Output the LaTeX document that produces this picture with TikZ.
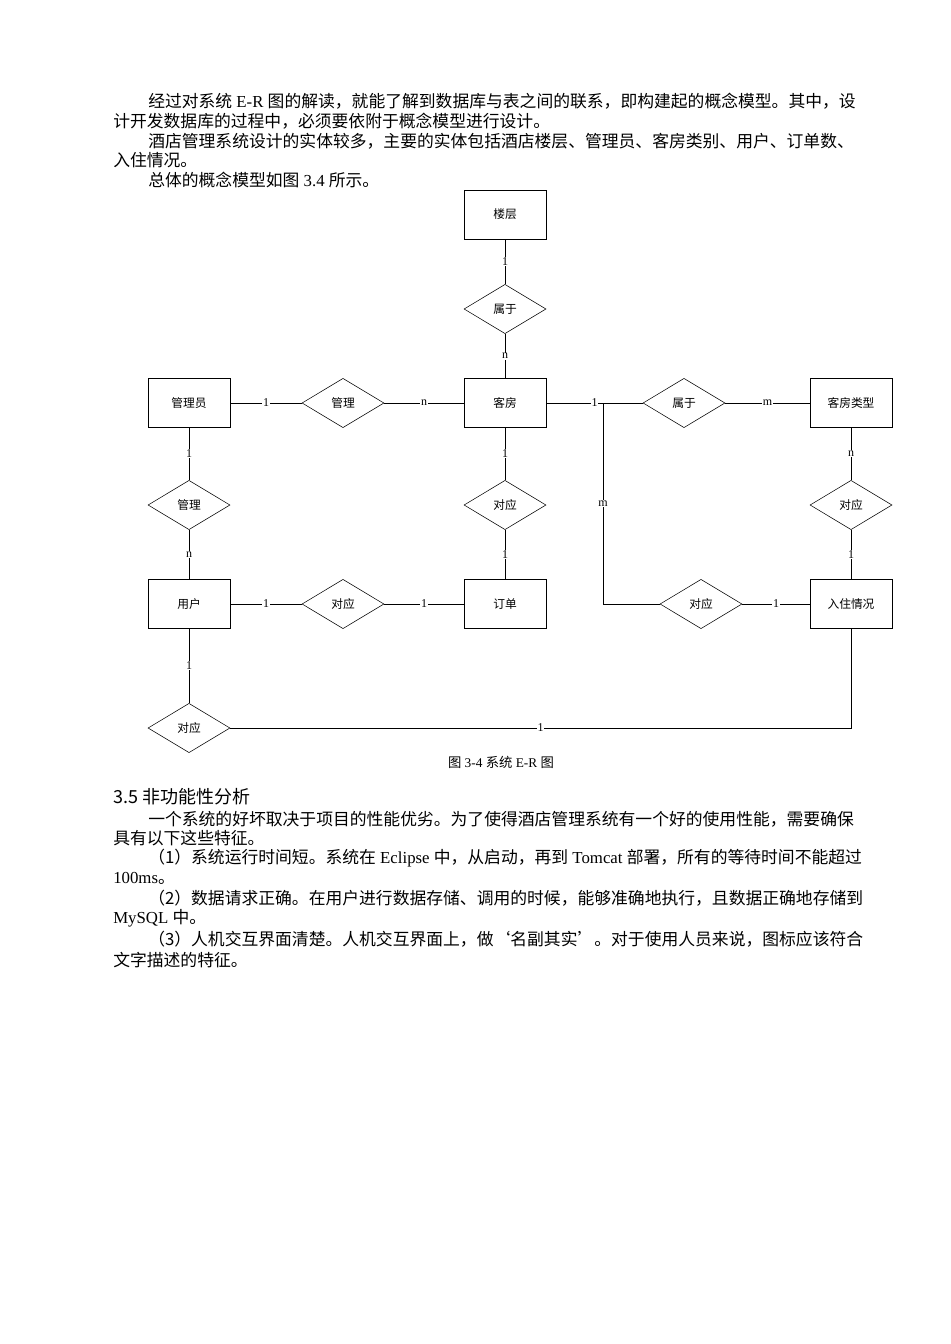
\documentclass[tikz,border=0pt]{standalone}
\usepackage{fontspec}
\setmainfont{Liberation Serif}
\newfontfamily\cjk{Noto Sans CJK SC}
\usetikzlibrary{shapes.geometric}
\newcommand{\zh}[1]{{\cjk #1}}
\tikzset{
  entity/.style = {draw, rectangle, minimum width=61.5pt, minimum height=36.5pt, inner sep=0pt, font=\cjk\fontsize{8.8}{10}\selectfont},
  relation/.style = {draw, diamond, minimum width=61.5pt, minimum height=37pt, inner sep=0pt, font=\cjk\fontsize{8.8}{10}\selectfont},
  card/.style = {fill=white, inner sep=0.5pt, font=\fontsize{9}{10}\selectfont},
  line/.style = {anchor=west, inner sep=0pt, font=\fontsize{12.6}{14}\selectfont}
}
\begin{document}
\begin{tikzpicture}[x=0.75pt,y=-0.75pt]
  \useasboundingbox[fill=white] (0,0) rectangle (950,1344);
  % text above the figure
  \node[line] (p1) at (148,101) {\zh{经过对系统} E-R \zh{图的解读，就能了解到数据库与表之间的联系，即构建起的概念模型。其中，设}};
  \node[line] (p2) at (113,121) {\zh{计开发数据库的过程中，必须要依附于概念模型进行设计。}};
  \node[line] (p3) at (148,141) {\zh{酒店管理系统设计的实体较多，主要的实体包括酒店楼层、管理员、客房类别、用户、订单数、}};
  \node[line] (p4) at (113,160) {\zh{入住情况。}};
  \node[line] (p5) at (148,180) {\zh{总体的概念模型如图} 3.4 \zh{所示。}};
  % entities
  \node[entity] (floor) at (505,214.5) {楼层};
  \node[entity] (room) at (505,403) {客房};
  \node[entity] (admin) at (189,403) {管理员};
  \node[entity] (rtype) at (851,403) {客房类型};
  \node[entity] (user) at (189,604) {用户};
  \node[entity] (order) at (505,604) {订单};
  \node[entity] (stay) at (851,604) {入住情况};
  % relations
  \node[relation] (belong1) at (505,309) {属于};
  \node[relation] (manage1) at (343,403) {管理};
  \node[relation] (belong2) at (684,403) {属于};
  \node[relation] (manage2) at (189,505) {管理};
  \node[relation] (match1) at (505,505) {对应};
  \node[relation] (match2) at (851,505) {对应};
  \node[relation] (match3) at (343,604) {对应};
  \node[relation] (match4) at (701,604) {对应};
  \node[relation] (match5) at (189,728) {对应};
  \coordinate (fork) at (603,403);
  \coordinate (forkd) at (603,604);
  \coordinate (corner) at (851,728);
  % connectors
  \draw (floor) -- node[card]{1} (belong1) -- node[card]{n} (room);
  \draw (admin) -- node[card]{1} (manage1) -- node[card]{n} (room);
  \draw (room) -- node[card]{1} (belong2) -- node[card]{m} (rtype);
  \draw (fork) -- node[card]{m} (forkd) -- (match4) -- node[card]{1} (stay);
  \draw (admin) -- node[card]{1} (manage2) -- node[card]{n} (user);
  \draw (room) -- node[card]{1} (match1) -- node[card]{1} (order);
  \draw (rtype) -- node[card]{n} (match2) -- node[card]{1} (stay);
  \draw (user) -- node[card]{1} (match3) -- node[card]{1} (order);
  \draw (user) -- node[card]{1} (match5);
  \draw (match5) -- node[card]{1} (corner) -- (stay);
  \node[inner sep=0pt, font=\fontsize{10}{11}\selectfont] (cap) at (501,762) {\zh{图} 3-4 \zh{系统} E-R \zh{图}};
  % text below the figure
  \node[line, font=\cjk\fontsize{13.5}{15}\selectfont] (h1) at (113,797) {3.5 非功能性分析};
  \node[line] (q1) at (148,819) {\zh{一个系统的好坏取决于项目的性能优劣。为了使得酒店管理系统有一个好的使用性能，需要确保}};
  \node[line] (q2) at (113,838) {\zh{具有以下这些特征。}};
  \node[line] (q3) at (148,858) {\zh{（1）系统运行时间短。系统在} Eclipse \zh{中，从启动，再到} Tomcat \zh{部署，所有的等待时间不能超过}};
  \node[line] (q4) at (113,878) {100ms\zh{。}};
  \node[line] (q5) at (148,898) {\zh{（2）数据请求正确。在用户进行数据存储、调用的时候，能够准确地执行，且数据正确地存储到}};
  \node[line] (q6) at (113,918) {MySQL \zh{中。}};
  \node[line] (q7) at (148,939) {\zh{（3）人机交互界面清楚。人机交互界面上，做‘名副其实’。对于使用人员来说，图标应该符合}};
  \node[line] (q8) at (113,960) {\zh{文字描述的特征。}};
\end{tikzpicture}
\end{document}
